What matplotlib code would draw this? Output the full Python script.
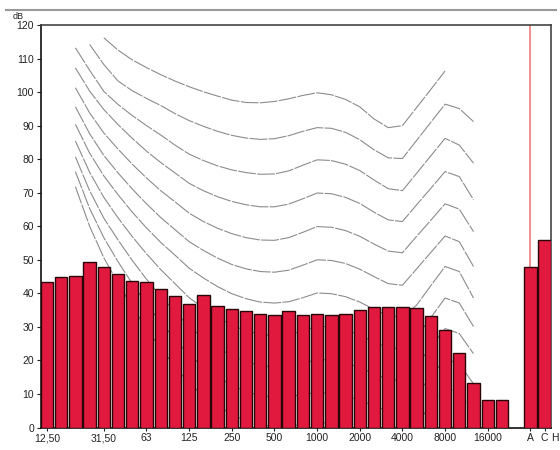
import matplotlib
matplotlib.use("Agg")
import matplotlib.pyplot as plt
from matplotlib.lines import Line2D
import numpy as np

plt.rcParams['font.family'] = ['Liberation Sans Narrow', 'Liberation Sans', 'DejaVu Sans']

# 1/3-octave bands (Hz)
bands = ['12.5', '16', '20', '25', '31.5', '40', '50', '63', '80', '100', '125', '160',
         '200', '250', '315', '400', '500', '630', '800', '1000', '1250', '1600', '2000',
         '2500', '3150', '4000', '5000', '6300', '8000', '10000', '12500', '16000', '20000']
levels = [43.5, 44.8, 45.2, 49.3, 48.0, 45.7, 43.8, 43.5, 41.3, 39.1, 36.9, 39.6, 36.3,
          35.3, 34.7, 33.7, 33.6, 34.8, 33.6, 33.8, 33.5, 33.7, 34.9, 35.8, 35.8, 35.8,
          35.6, 33.1, 29.0, 22.2, 13.3, 8.3, 8.1]

# overall weighted levels
weight_labels = ['A', 'C']
weight_levels = [48.0, 56.0]
extra_label = 'H'

# labelled bands on the x axis
label_bands = ['12.5', '31.5', '63', '125', '250', '500', '1000', '2000', '4000', '8000', '16000']
label_texts = ['12,50', '31,50', '63', '125', '250', '500', '1000', '2000', '4000', '8000', '16000']

# equal-loudness contours (phon), first band of each curve, values (dB) per band
contour_start = {100: '31.5', 90: '25', 80: '20', 70: '20', 60: '20', 50: '20',
                 40: '20', 30: '20', 20: '20', 10: '20', 0: '20'}
curve_100 = [116.2, 112.5, 109.6, 107.3, 105.2, 103.3, 101.6, 100.1, 98.8, 97.6, 96.9, 96.8,
             97.2, 98.0, 99.0, 99.8, 99.2, 97.8, 95.6, 92.0, 89.4, 90.0, 95.4, 100.8, 106.3]
curve_90 = [114.2, 108.2, 103.3, 100.4, 98.1, 96.0, 93.6, 91.5, 89.8, 88.3, 87.1, 86.3, 85.9,
            86.1, 87.0, 88.3, 89.4, 89.2, 88.0, 85.8, 82.8, 80.4, 80.2, 85.6, 91.0, 96.4,
            95.1, 91.2]
curve_80 = [113.2, 106.5, 100.2, 96.3, 93.0, 90.0, 87.2, 84.2, 81.5, 79.6, 78.0, 76.8, 76.0,
            75.5, 75.6, 76.5, 78.2, 79.8, 79.6, 78.5, 76.6, 73.8, 71.2, 70.6, 75.8, 81.0,
            86.2, 84.2, 78.8]
curve_70 = [107.2, 100.3, 94.8, 90.3, 86.2, 82.4, 79.0, 75.9, 72.8, 70.6, 68.8, 67.4, 66.4,
            65.8, 65.8, 66.6, 68.2, 69.9, 69.7, 68.6, 66.8, 64.2, 61.9, 61.4, 66.4, 71.3,
            76.3, 74.8, 67.9]
curve_60 = [101.3, 93.8, 87.8, 83.0, 78.5, 74.4, 70.6, 67.3, 63.9, 61.4, 59.4, 57.8, 56.6,
            55.9, 55.8, 56.6, 58.2, 59.9, 59.7, 58.7, 57.0, 54.7, 52.6, 52.1, 57.0, 61.8,
            66.7, 65.1, 58.4]
curve_50 = [95.6, 87.6, 81.1, 75.9, 71.1, 66.7, 62.6, 59.0, 55.4, 52.8, 50.5, 48.6, 47.3,
            46.5, 46.3, 46.9, 48.4, 50.0, 49.8, 48.9, 47.2, 45.0, 42.9, 42.4, 47.3, 52.2,
            57.1, 55.4, 48.0]
curve_40 = [90.4, 81.8, 75.0, 69.4, 64.2, 59.5, 55.2, 51.4, 47.5, 44.6, 42.0, 39.9, 38.4,
            37.4, 37.1, 37.5, 38.7, 40.1, 39.9, 39.0, 37.4, 35.2, 33.4, 32.8, 36.5, 42.3,
            48.0, 46.5, 38.6]
curve_30 = [85.4, 76.1, 68.6, 62.5, 56.9, 51.8, 47.1, 42.9, 38.7, 35.6, 32.8, 30.5, 28.8,
            27.8, 27.4, 27.7, 28.8, 30.2, 30.0, 29.1, 27.6, 25.5, 23.8, 23.4, 27.0, 32.8,
            38.6, 37.1, 30.1]
curve_20 = [80.7, 70.6, 62.4, 55.9, 49.8, 44.2, 39.1, 34.6, 30.0, 26.8, 23.8, 21.4, 19.6,
            18.5, 18.0, 18.2, 19.1, 20.3, 20.1, 19.3, 17.9, 16.0, 14.4, 14.0, 18.5, 24.0,
            29.5, 28.0, 22.0]
curve_10 = [76.3, 65.3, 56.6, 49.4, 42.9, 36.8, 31.4, 26.4, 21.5, 18.2, 15.1, 12.6, 10.7,
            9.5, 9.0, 9.1, 9.9, 10.4, 10.2, 9.5, 8.2, 6.4, 5.0, 4.6, 9.9, 15.2, 20.5, 19.0,
            13.0]
curve_0 = [71.8, 60.0, 50.6, 43.0, 35.9, 29.5, 23.6, 18.3, 13.0, 9.6, 6.5, 3.9, 2.0, 0.8,
           0.3, 0.3, 1.0, 1.5, 1.3, 0.6, -0.6, -2.3, -3.6, -4.0, 1.3, 6.6, 12.0, 10.5, 4.5]
contours = {100: curve_100, 90: curve_90, 80: curve_80, 70: curve_70, 60: curve_60,
            50: curve_50, 40: curve_40, 30: curve_30, 20: curve_20, 10: curve_10, 0: curve_0}

yticks = list(range(0, 121, 10))

bar_color = '#E2193F'
edge_color = '#2a0508'

fig = plt.figure(figsize=(5.6, 4.5), dpi=100)
W, H = 560, 450
ax = fig.add_axes([41 / W, 1 - 427.5 / H, 510 / W, (427.5 - 25) / H])

xb = np.arange(len(bands))
xw = len(bands) + 1 + np.arange(len(weight_labels))

# contours
for phon, vals in contours.items():
    s = bands.index(contour_start[phon])
    xs = np.arange(s, s + len(vals))
    ax.plot(xs, vals, color='#8c8c8c', lw=0.8, dashes=[16, 1.2], zorder=2)

# red marker line at A
ax.axvline(xw[0], color='#ee7070', lw=1.1, zorder=2.5)

ax.bar(xb, levels, width=0.87, color=bar_color, edgecolor=edge_color, linewidth=1.0, zorder=3)
ax.bar(xw, weight_levels, width=0.87, color=bar_color, edgecolor=edge_color, linewidth=1.0, zorder=3)

ax.set_xlim(-0.42, 35.45)
ax.set_ylim(0, 120)

tick_pos = [bands.index(b) for b in label_bands] + list(xw)
ax.set_xticks(tick_pos)
ax.set_xticklabels(label_texts + weight_labels)
ax.set_yticks(yticks)
ax.set_yticklabels([str(v) for v in yticks])
ax.tick_params(axis='both', labelsize=7.5, colors='#222222', length=3, width=0.8, pad=2)
ax.tick_params(axis='x', length=2, pad=2)

ax.annotate(extra_label, xy=(xw[-1] + 0.72, 0), xycoords=('data', 'axes fraction'),
            xytext=(0, -4), textcoords='offset points', fontsize=7.5, color='#222222',
            ha='center', va='top', annotation_clip=False)
ax.text(-2.05, 121.3, 'dB', fontsize=6.5, color='#222222', ha='center', va='bottom', clip_on=False)

for side in ['left', 'bottom']:
    ax.spines[side].set_color('#111111')
    ax.spines[side].set_linewidth(1.2)
for side in ['top', 'right']:
    ax.spines[side].set_color('#444444')
    ax.spines[side].set_linewidth(1.2)

fig.add_artist(Line2D([6 / W, 556 / W], [1 - 10 / H, 1 - 10 / H], color='#999999', lw=1.5))

fig.savefig('out.png', dpi=100)
